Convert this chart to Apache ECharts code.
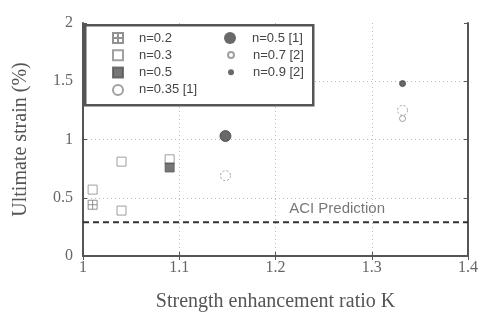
<!DOCTYPE html>
<html><head><meta charset="utf-8">
<script src="https://cdn.jsdelivr.net/npm/echarts@6/dist/echarts.min.js"></script>
<style>html,body{margin:0;padding:0;background:#fff}#c{width:481px;height:320px}</style>
</head><body><div id="c"></div>
<script>
var xTicks = [1, 1.1, 1.2, 1.3, 1.4];
var yTicks = [0, 0.5, 1, 1.5, 2];
var n02 = [[1.01, 0.44]];
var n03 = [[1.01, 0.57], [1.04, 0.81], [1.04, 0.39], [1.09, 0.83]];
var n05 = [[1.09, 0.76]];
var n035_1 = [[1.148, 0.69], [1.332, 1.25]];
var n05_1 = [[1.148, 1.03]];
var n07_2 = [[1.332, 1.18]];
var n09_2 = [[1.332, 1.48]];
var aciValue = 0.29;
var aciLine = [[1, aciValue], [1.4, aciValue]];
var aciLabelPos = [[1.264, aciValue]];

var crossSq = 'path://M0,0H10V10H0Z M5,0V10 M0,5H10';
var serif = '"Liberation Serif", "Times New Roman", serif';
var sans = '"Liberation Sans", Arial, sans-serif';

function legText(pad) {
  return {fontFamily: sans, fontSize: 13, color: '#444', lineHeight: 13, padding: [0, 0, 0, pad]};
}
var frameAxisLine = {show: true, lineStyle: {color: '#555', width: 2}};
var frameTick = {show: true, inside: true, length: 4, lineStyle: {color: '#555'}};
var gridSplit = {show: true, showMinLine: false, showMaxLine: false, lineStyle: {color: '#bbb', type: [1, 3], width: 1}};

var chart = echarts.init(document.getElementById('c'), null, {renderer: 'canvas'});
chart.setOption({
  animation: false,
  backgroundColor: '#fff',
  grid: {left: 83, right: 11, top: 23, bottom: 64},
  xAxis: [{
    type: 'value', min: 1, max: 1.4, interval: 0.1, position: 'bottom',
    name: 'Strength enhancement ratio K', nameLocation: 'middle', nameGap: 36,
    nameTextStyle: {fontFamily: serif, fontSize: 20, color: '#555'},
    axisLine: frameAxisLine, axisTick: frameTick,
    axisLabel: {fontFamily: serif, fontSize: 16, color: '#666', margin: 4,
      formatter: function (v) { return String(Math.round(v * 10) / 10); }},
    splitLine: gridSplit
  }, {
    type: 'value', min: 1, max: 1.4, interval: 0.1, position: 'top',
    axisLine: frameAxisLine, axisTick: frameTick, axisLabel: {show: false}, splitLine: {show: false}
  }],
  yAxis: [{
    type: 'value', min: 0, max: 2, interval: 0.5, position: 'left',
    name: 'Ultimate strain (%)', nameLocation: 'middle', nameGap: 52,
    nameTextStyle: {fontFamily: serif, fontSize: 20, color: '#555'},
    axisLine: frameAxisLine, axisTick: frameTick,
    axisLabel: {fontFamily: serif, fontSize: 16, color: '#666', margin: 10},
    splitLine: gridSplit
  }, {
    type: 'value', min: 0, max: 2, interval: 0.5, position: 'right',
    axisLine: frameAxisLine, axisTick: frameTick, axisLabel: {show: false}, splitLine: {show: false}
  }],
  graphic: [{
    type: 'rect', left: 84, top: 24, z: 3,
    shape: {width: 228, height: 80},
    style: {fill: '#fff', stroke: '#555', lineWidth: 2.5}
  }],
  legend: [
    {data: ['n=0.2', 'n=0.3', 'n=0.5', 'n=0.35 [1]'], orient: 'vertical', left: 112, top: 31.5, z: 5, padding: 0,
      itemWidth: 10, itemHeight: 10, itemGap: 4.3, textStyle: legText(11)},
    {data: ['n=0.5 [1]'], orient: 'vertical', left: 224, top: 31.5, z: 5, padding: 0,
      itemWidth: 12, itemHeight: 12, textStyle: legText(11)},
    {data: ['n=0.7 [2]', 'n=0.9 [2]'], orient: 'vertical', left: 227, top: 48.5, z: 5, padding: 0,
      itemWidth: 6, itemHeight: 6, itemGap: 4.3, textStyle: legText(14)}
  ],
  series: [
    {name: 'ACI', type: 'line', data: aciLine, symbol: 'none', silent: true,
      lineStyle: {color: '#333', width: 2, type: [6, 4]}, z: 2},
    {name: 'aciLabel', type: 'scatter', data: aciLabelPos, symbolSize: 0, silent: true,
      label: {show: true, position: 'top', distance: 6, formatter: 'ACI Prediction',
        fontFamily: sans, fontSize: 15, color: '#555'}},
    {name: 'n=0.2', type: 'scatter', data: n02, symbol: crossSq, symbolSize: 9,
      itemStyle: {color: 'rgba(255,255,255,0)', borderColor: '#777', borderWidth: 1}},
    {name: 'n=0.3', type: 'scatter', data: n03, symbol: 'rect', symbolSize: 9,
      itemStyle: {color: '#fff', borderColor: '#888', borderWidth: 1}},
    {name: 'n=0.5', type: 'scatter', data: n05, symbol: 'rect', symbolSize: 9,
      itemStyle: {color: '#555', borderColor: '#555', borderWidth: 1}},
    {name: 'n=0.35 [1]', type: 'scatter', data: n035_1, symbol: 'circle', symbolSize: 10,
      itemStyle: {color: '#fff', borderColor: '#888', borderWidth: 1, borderType: [2, 2]}},
    {name: 'n=0.5 [1]', type: 'scatter', data: n05_1, symbol: 'circle', symbolSize: 11,
      itemStyle: {color: '#444', borderColor: '#444'}},
    {name: 'n=0.7 [2]', type: 'scatter', data: n07_2, symbol: 'circle', symbolSize: 6,
      itemStyle: {color: '#fff', borderColor: '#888', borderWidth: 1}},
    {name: 'n=0.9 [2]', type: 'scatter', data: n09_2, symbol: 'circle', symbolSize: 6,
      itemStyle: {color: '#444', borderColor: '#444'}}
  ]
});
</script></body></html>
